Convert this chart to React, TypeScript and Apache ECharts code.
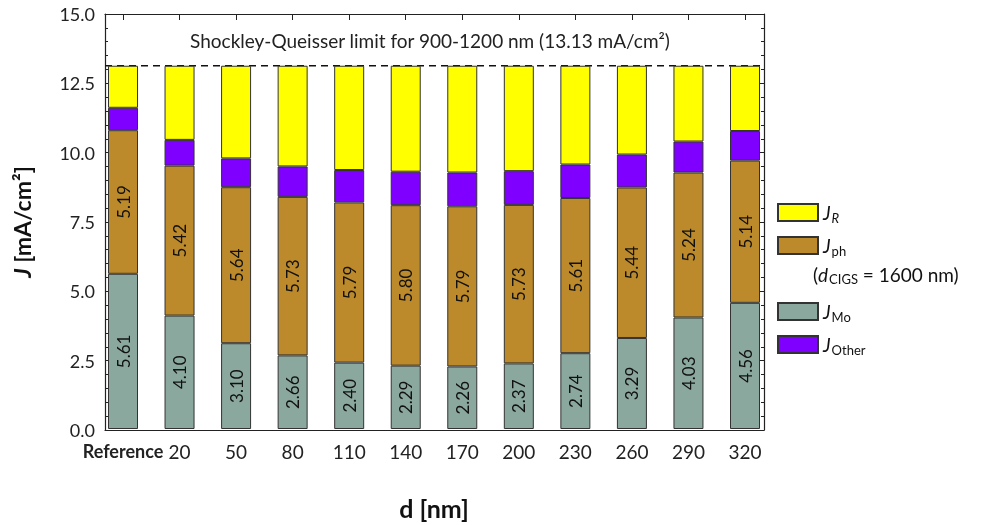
import React, { useEffect, useRef } from 'react';
import * as echarts from 'echarts';

const categories = ['Reference', '20', '50', '80', '110', '140', '170', '200', '230', '260', '290', '320'];
const jMo = [5.61, 4.10, 3.10, 2.66, 2.40, 2.29, 2.26, 2.37, 2.74, 3.29, 4.03, 4.56];
const jPh = [5.19, 5.42, 5.64, 5.73, 5.79, 5.80, 5.79, 5.73, 5.61, 5.44, 5.24, 5.14];
const jOther = [0.81, 0.93, 1.04, 1.10, 1.17, 1.21, 1.22, 1.22, 1.21, 1.19, 1.12, 1.07];
const jR = [1.52, 2.68, 3.35, 3.64, 3.77, 3.83, 3.86, 3.81, 3.57, 3.21, 2.74, 2.36];
const sqLimit = 13.13;

const FONT = 'Lato, "Open Sans", sans-serif';

export default function App() {
  const ref = useRef<HTMLDivElement>(null);
  useEffect(() => {
    if (!ref.current) return;
    const chart = echarts.init(ref.current, null, { renderer: 'svg' });
    const border = { borderColor: '#333', borderWidth: 1 };
    const legendRich = {
      j: { fontStyle: 'italic', fontSize: 19, color: '#111', fontFamily: FONT },
      s: { fontSize: 13, padding: [10, 0, 0, 1], color: '#111', fontFamily: FONT },
      si: { fontSize: 13, fontStyle: 'italic', padding: [10, 0, 0, 1], color: '#111', fontFamily: FONT },
    };
    const legendFmt = (name: string) => {
      const [, sub] = name.split('_');
      return sub === 'R' ? '{j|J}{si|R}' : '{j|J}{s|' + sub + '}';
    };
    const frameX = {
      type: 'value',
      gridIndex: 1,
      min: 0,
      max: 1,
      splitLine: { show: false },
      axisTick: { show: false },
      axisLabel: { show: false },
      axisLine: { show: true, onZero: false, lineStyle: { color: '#222', width: 1.2 } },
    };
    const frameY = {
      type: 'value',
      gridIndex: 1,
      min: 0,
      max: 15,
      interval: 2.5,
      splitLine: { show: false },
      axisLine: { show: true, onZero: false, lineStyle: { color: '#222', width: 1.2 } },
      axisTick: { show: true, inside: true, length: 6, lineStyle: { color: '#222' } },
      minorTick: { show: true, splitNumber: 5, length: 3, lineStyle: { color: '#222' } },
    };
    const labelStyle = {
      show: true,
      position: 'inside',
      rotate: 90,
      color: '#111',
      fontSize: 17,
      fontFamily: FONT,
      formatter: (p: any) => Number(p.value).toFixed(2),
    };
    const barBase = { type: 'bar', stack: 'total', barWidth: 30, xAxisIndex: 0, yAxisIndex: 0 };
    chart.setOption({
      animation: false,
      textStyle: { fontFamily: FONT },
      grid: [
        { left: 123, right: 243, top: 14, bottom: 95 },
        { left: 105, right: 224, top: 14, bottom: 95 },
      ],
      xAxis: [
        {
          type: 'category',
          gridIndex: 0,
          data: categories,
          boundaryGap: false,
          position: 'bottom',
          axisLine: { show: false },
          axisTick: { show: false },
          name: 'd [nm]',
          nameLocation: 'middle',
          nameGap: 66,
          nameTextStyle: { fontSize: 25, fontWeight: 'bold', color: '#111', fontFamily: FONT },
          axisLabel: {
            interval: 0,
            hideOverlap: false,
            margin: 13,
            fontSize: 19,
            color: '#222',
            fontFamily: FONT,
            formatter: (v: string, i: number) => (i === 0 ? '{b|' + v + '}' : v),
            rich: { b: { fontWeight: 'bold', fontSize: 18, color: '#222', fontFamily: FONT } },
          },
        },
        {
          type: 'category',
          gridIndex: 0,
          data: categories,
          boundaryGap: false,
          position: 'top',
          axisLine: { show: false },
          axisTick: { show: true, inside: true, length: 6, interval: 0, lineStyle: { color: '#222' } },
          axisLabel: { show: false, interval: 0 },
        },
        { ...frameX, position: 'bottom' },
        { ...frameX, position: 'top' },
      ],
      yAxis: [
        { type: 'value', gridIndex: 0, min: 0, max: 15, show: false },
        {
          ...frameY,
          position: 'left',
          name: '{i|J} [mA/cm²]',
          nameLocation: 'middle',
          nameGap: 72,
          nameRotate: 90,
          nameTextStyle: {
            fontSize: 23,
            fontWeight: 'bold',
            color: '#111',
            fontFamily: FONT,
            rich: { i: { fontStyle: 'italic', fontWeight: 'bold', fontSize: 23, color: '#111', fontFamily: FONT } },
          },
          axisLabel: {
            fontSize: 18,
            color: '#222',
            margin: 10,
            fontFamily: FONT,
            formatter: (v: number) => v.toFixed(1),
          },
        },
        { ...frameY, position: 'right', axisLabel: { show: false } },
      ],
      legend: [
        {
          data: ['J_R', 'J_ph'],
          orient: 'vertical',
          left: 772,
          top: 198,
          itemWidth: 40,
          itemHeight: 17,
          itemGap: 12,
          icon: 'rect',
          formatter: legendFmt,
          textStyle: { rich: legendRich, fontSize: 19, color: '#111' },
        },
        {
          data: ['J_Mo', 'J_Other'],
          orient: 'vertical',
          left: 772,
          top: 297,
          itemWidth: 40,
          itemHeight: 17,
          itemGap: 12,
          icon: 'rect',
          formatter: legendFmt,
          textStyle: { rich: legendRich, fontSize: 19, color: '#111' },
        },
      ],
      graphic: [
        {
          type: 'text',
          x: 430,
          y: 40,
          style: {
            text: 'Shockley-Queisser limit for 900-1200 nm (13.13 mA/cm²)',
            align: 'center',
            verticalAlign: 'middle',
            fontSize: 19,
            fontFamily: FONT,
            fill: '#222',
          },
        },
        {
          type: 'text',
          x: 813,
          y: 274,
          style: {
            text: '({d|d}{c|CIGS} = 1600 nm)',
            verticalAlign: 'middle',
            fontSize: 19,
            fontFamily: FONT,
            fill: '#111',
            rich: {
              d: { fontStyle: 'italic', fontSize: 19, fill: '#111', fontFamily: FONT },
              c: { fontSize: 13, padding: [10, 0, 0, 1], fill: '#111', fontFamily: FONT },
            },
          },
        },
      ],
      series: [
        { ...barBase, name: 'J_Mo', data: jMo, itemStyle: { color: '#8BA89F', ...border }, label: labelStyle },
        { ...barBase, name: 'J_ph', data: jPh, itemStyle: { color: '#BC8A2A', ...border }, label: labelStyle },
        { ...barBase, name: 'J_Other', data: jOther, itemStyle: { color: '#7F00FF', ...border } },
        { ...barBase, name: 'J_R', data: jR, itemStyle: { color: '#FFFF00', ...border } },
        {
          name: 'SQ limit',
          type: 'line',
          xAxisIndex: 2,
          yAxisIndex: 1,
          data: [[0, sqLimit], [1, sqLimit]],
          symbol: 'none',
          silent: true,
          z: 1,
          lineStyle: { type: [7, 5], color: '#111', width: 1.5 },
        },
      ],
    });
    return () => chart.dispose();
  }, []);
  return <div ref={ref} style={{ position: 'fixed', left: 0, top: 0, width: 988, height: 525 }} />;
}
